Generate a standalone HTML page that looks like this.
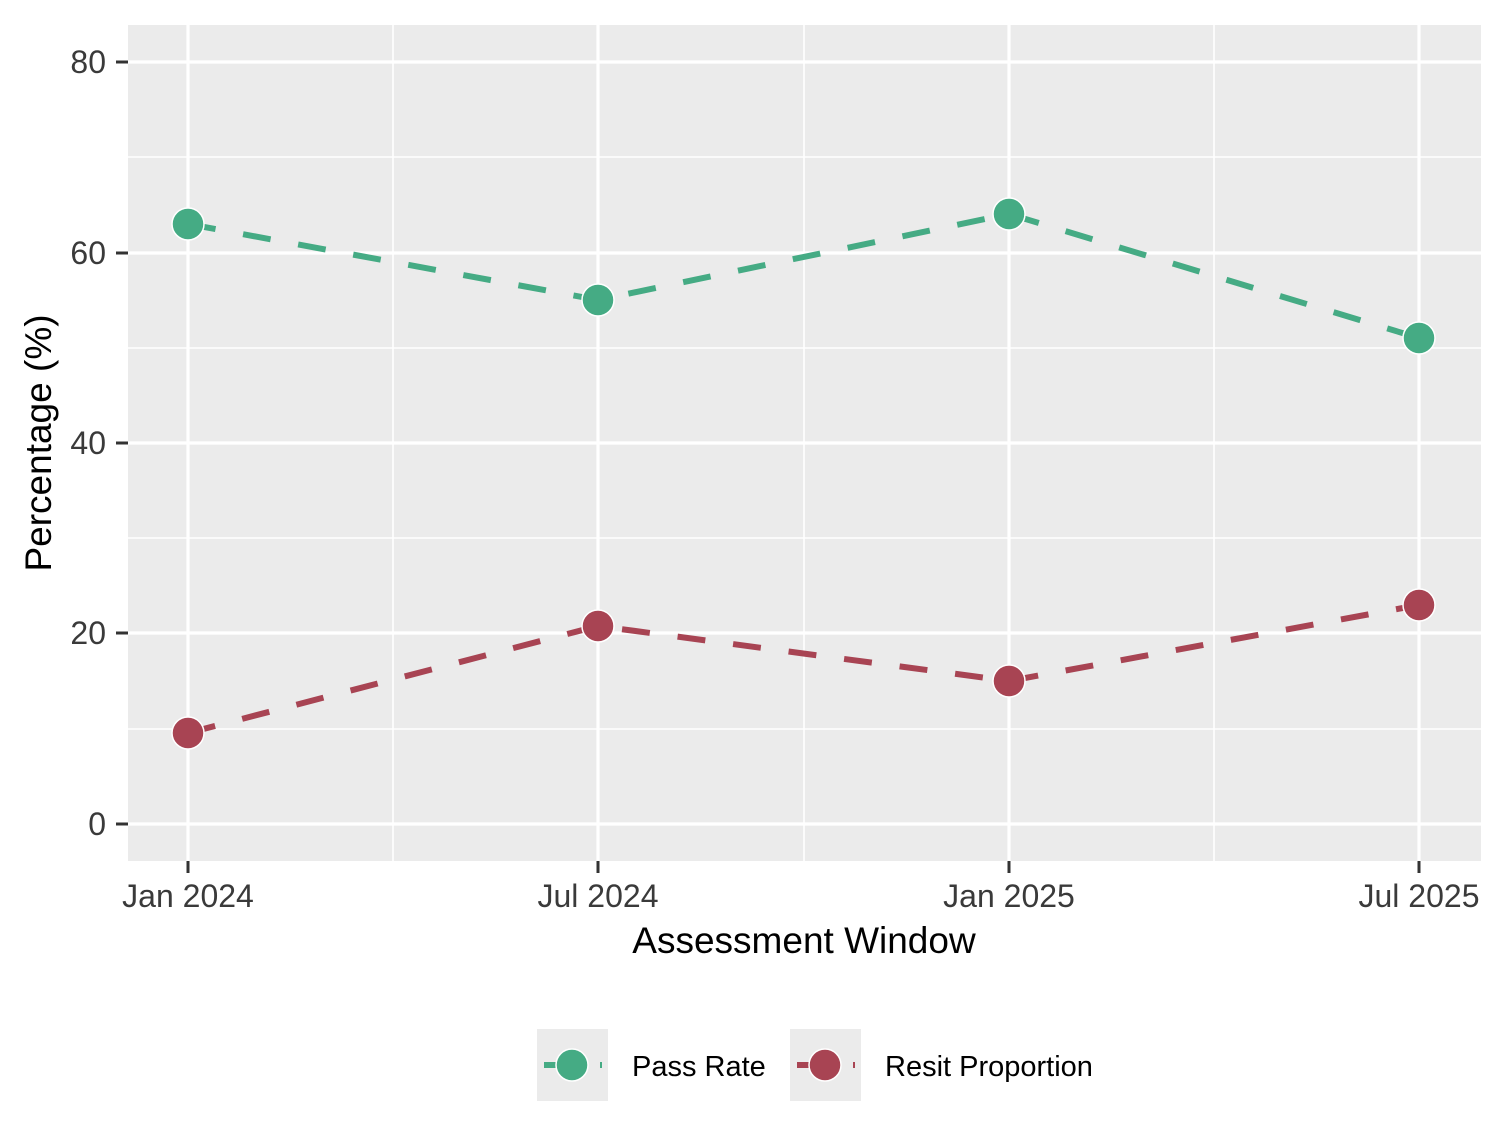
<!DOCTYPE html>
<html><head><meta charset="utf-8"><style>body{margin:0;background:#fff}svg{display:block}</style></head><body>
<svg width="1504" height="1147" xmlns="http://www.w3.org/2000/svg" font-family="Liberation Sans, sans-serif">
<rect x="128" y="25" width="1353" height="836" fill="#EBEBEB"/>
<g stroke="#fff" stroke-width="1.6">
<line x1="128" x2="1481" y1="729" y2="729"/><line x1="128" x2="1481" y1="538" y2="538"/><line x1="128" x2="1481" y1="348" y2="348"/><line x1="128" x2="1481" y1="157" y2="157"/>
<line x1="393" x2="393" y1="25" y2="861"/><line x1="804" x2="804" y1="25" y2="861"/><line x1="1214" x2="1214" y1="25" y2="861"/>
</g>
<g stroke="#fff" stroke-width="3.2">
<line x1="128" x2="1481" y1="824" y2="824"/><line x1="128" x2="1481" y1="633" y2="633"/><line x1="128" x2="1481" y1="443" y2="443"/><line x1="128" x2="1481" y1="253" y2="253"/><line x1="128" x2="1481" y1="62" y2="62"/>
<line x1="188" x2="188" y1="25" y2="861"/><line x1="598" x2="598" y1="25" y2="861"/><line x1="1009" x2="1009" y1="25" y2="861"/><line x1="1419" x2="1419" y1="25" y2="861"/>
</g>
<g stroke="#333" stroke-width="3">
<line x1="116" x2="128" y1="824" y2="824"/><line x1="116" x2="128" y1="633" y2="633"/><line x1="116" x2="128" y1="443" y2="443"/><line x1="116" x2="128" y1="253" y2="253"/><line x1="116" x2="128" y1="62" y2="62"/>
<line x1="188" x2="188" y1="861" y2="873"/><line x1="598" x2="598" y1="861" y2="873"/><line x1="1009" x2="1009" y1="861" y2="873"/><line x1="1419" x2="1419" y1="861" y2="873"/>
</g>
<g font-size="32" fill="#3a3a3a" text-anchor="end">
<text x="106" y="835">0</text><text x="106" y="644">20</text><text x="106" y="454">40</text><text x="106" y="264">60</text><text x="106" y="73">80</text>
</g>
<g font-size="32" fill="#3a3a3a" text-anchor="middle">
<text x="188" y="907">Jan 2024</text><text x="598" y="907">Jul 2024</text><text x="1009" y="907">Jan 2025</text><text x="1419" y="907">Jul 2025</text>
</g>
<text x="804" y="953" font-size="37" text-anchor="middle">Assessment Window</text>
<text transform="translate(51,443) rotate(-90)" font-size="37" text-anchor="middle">Percentage (%)</text>
<polyline points="188,224 598,300 1009,214 1419,338" fill="none" stroke="#45AB84" stroke-width="6" stroke-dasharray="28 28"/>
<polyline points="188,733 598,626 1009,681 1419,605" fill="none" stroke="#A84453" stroke-width="6" stroke-dasharray="28 28"/>
<g fill="#45AB84" stroke="#fff" stroke-width="1.5">
<circle cx="188" cy="224" r="16"/><circle cx="598" cy="300" r="16"/><circle cx="1009" cy="214" r="16"/><circle cx="1419" cy="338" r="16"/>
</g>
<g fill="#A84453" stroke="#fff" stroke-width="1.5">
<circle cx="188" cy="733" r="16"/><circle cx="598" cy="626" r="16"/><circle cx="1009" cy="681" r="16"/><circle cx="1419" cy="605" r="16"/>
</g>
<rect x="537" y="1029" width="71" height="72" fill="#EBEBEB"/>
<line x1="544" x2="572" y1="1065" y2="1065" stroke="#45AB84" stroke-width="6"/>
<line x1="601" x2="601" y1="1062" y2="1068" stroke="#45AB84" stroke-width="2"/>
<circle cx="572" cy="1065" r="16" fill="#45AB84" stroke="#fff" stroke-width="1.5"/>
<text x="632" y="1076" font-size="29">Pass Rate</text>
<rect x="790" y="1029" width="71" height="72" fill="#EBEBEB"/>
<line x1="797" x2="825" y1="1065" y2="1065" stroke="#A84453" stroke-width="6"/>
<line x1="854" x2="854" y1="1062" y2="1068" stroke="#A84453" stroke-width="2"/>
<circle cx="825" cy="1065" r="16" fill="#A84453" stroke="#fff" stroke-width="1.5"/>
<text x="885" y="1076" font-size="29">Resit Proportion</text>
</svg>
</body></html>
